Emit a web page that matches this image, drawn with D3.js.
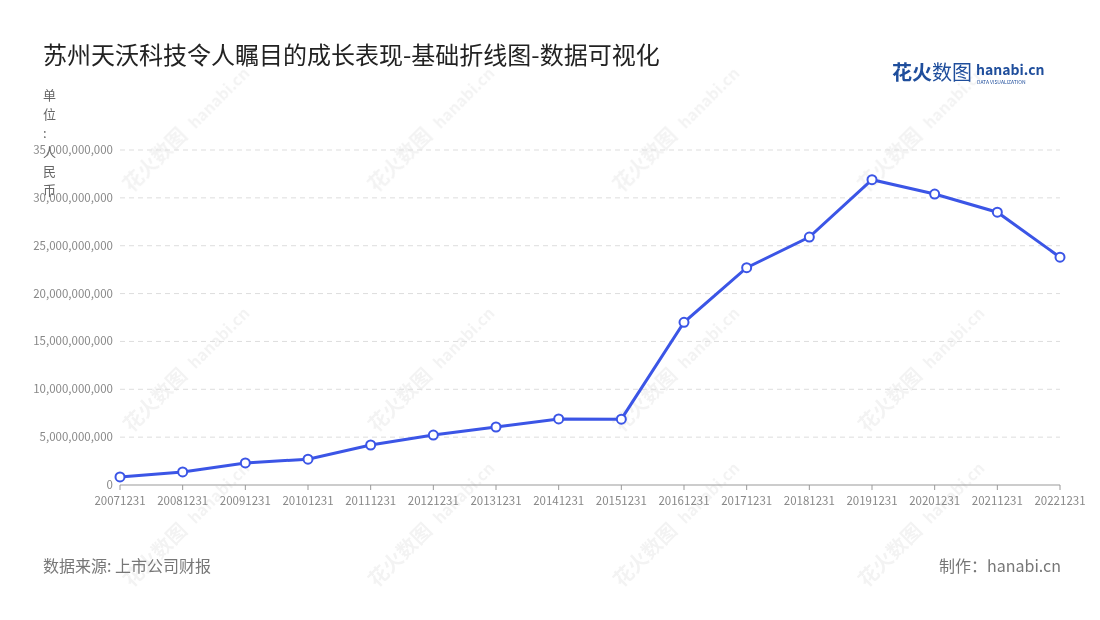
<!DOCTYPE html><html><head><meta charset="utf-8"><script src="https://cdn.jsdelivr.net/npm/d3@7"></script>
<style>body{margin:0;background:#fff;font-family:"Noto Sans CJK SC","Noto Sans",sans-serif}</style></head><body><svg id="c" width="1100" height="620"></svg>
<script>
const categories=["20071231","20081231","20091231","20101231","20111231","20121231","20131231","20141231","20151231","20161231","20171231","20181231","20191231","20201231","20211231","20221231"];
const values=[840e6,1360e6,2300e6,2700e6,4180e6,5220e6,6060e6,6900e6,6880e6,17000e6,22700e6,25900e6,31900e6,30400e6,28500e6,23800e6];
const yTicks=[0,5e9,10e9,15e9,20e9,25e9,30e9,35e9];
const svg=d3.select("#c");
const x=d3.scalePoint().domain(categories).range([120,1060]);
const y=d3.scaleLinear().domain([0,35e9]).range([485,150]);
const wm=svg.append("g").attr("fill","#000").attr("opacity",0.05).attr("font-size",20).attr("font-weight","bold");
for(const cx of [160,405,650,895])for(const cy of [165,405,560]){
 const g=wm.append("g").attr("transform",`translate(${cx},${cy}) rotate(-45)`);
 g.append("text").text("花火数图").attr("x",-40);g.append("text").text("hanabi.cn").attr("x",50).attr("font-size",16);}
svg.append("text").attr("x",43).attr("y",64).attr("font-size",24).attr("fill","#222").text("苏州天沃科技令人瞩目的成长表现-基础折线图-数据可视化");
const lg=svg.append("g");
lg.append("text").attr("x",892).attr("y",80).attr("font-size",20).attr("font-weight","bold").attr("fill","#1f4e9c").text("花火");
lg.append("text").attr("x",932).attr("y",80).attr("font-size",20).attr("fill","#1f4e9c").text("数图");
lg.append("text").attr("x",976).attr("y",75).attr("font-size",14).attr("font-weight","bold").attr("fill","#1f4e9c").text("hanabi.cn");
lg.append("text").attr("x",977).attr("y",84).attr("font-size",5).attr("fill","#1f4e9c").text("DATA VISUALIZATION");
const ul=svg.append("text").attr("font-size",13).attr("fill","#666");
"单位：人民币".split("").forEach((c,i)=>ul.append("tspan").attr("x",43).attr("y",100+i*19).text(c==="："?":":c));
svg.append("g").selectAll("line").data(yTicks.slice(1)).join("line").attr("x1",120).attr("x2",1060).attr("y1",d=>y(d)).attr("y2",d=>y(d)).attr("stroke","#ddd").attr("stroke-dasharray","5,4");
svg.append("g").selectAll("text").data(yTicks).join("text").attr("x",113).attr("y",d=>y(d)+4).attr("text-anchor","end").attr("font-size",11.5).attr("fill","#888").text(d=>d3.format(",")(d));
svg.append("line").attr("x1",120).attr("x2",1060).attr("y1",485).attr("y2",485).attr("stroke","#999");
svg.append("g").selectAll("line").data(categories).join("line").attr("x1",d=>x(d)).attr("x2",d=>x(d)).attr("y1",485).attr("y2",490).attr("stroke","#999");
svg.append("g").selectAll("text").data(categories).join("text").attr("x",d=>x(d)).attr("y",505).attr("text-anchor","middle").attr("font-size",11.5).attr("fill","#888").text(d=>d);
svg.append("path").datum(values).attr("fill","none").attr("stroke","#3b55e6").attr("stroke-width",3).attr("d",d3.line().x((d,i)=>x(categories[i])).y(d=>y(d)));
svg.append("g").selectAll("circle").data(values).join("circle").attr("cx",(d,i)=>x(categories[i])).attr("cy",d=>y(d)).attr("r",4.5).attr("fill","#fff").attr("stroke","#3b55e6").attr("stroke-width",2);
svg.append("text").attr("x",43).attr("y",572).attr("font-size",16).attr("fill","#777").text("数据来源: 上市公司财报");
svg.append("text").attr("x",1061).attr("y",572).attr("text-anchor","end").attr("font-size",16).attr("fill","#777").text("制作：hanabi.cn");
</script></body></html>
